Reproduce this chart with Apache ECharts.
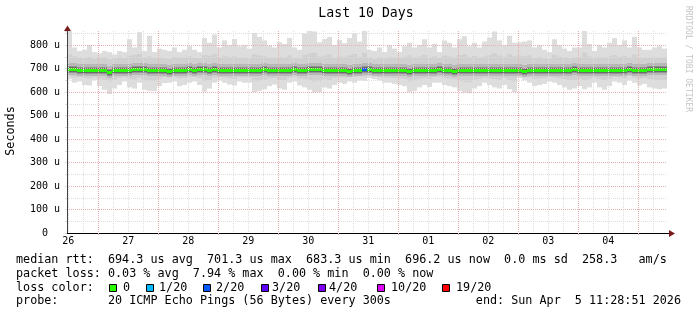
<!DOCTYPE html>
<html>
<head>
<meta charset="utf-8">
<script src="https://cdn.jsdelivr.net/npm/echarts@6/dist/echarts.min.js"></script>
<style>
html, body { margin: 0; padding: 0; background: #fff; }
#chart { width: 697px; height: 315px; }
</style>
</head>
<body>
<div id="chart"></div>
<script>
// last 10 days, 2 hour bins, x in hours since Thu Mar 26 00:00
const START_HOUR = 11.4808;
const END_HOUR = 251.4808;
const BIN_HOURS = 2;

const dayLabels = ['26', '27', '28', '29', '30', '31', '01', '02', '03', '04'];

// smoke: max / min of the pings (microseconds)
const smokeHi = [
    860, 790, 775, 780, 800, 770, 765, 775, 770, 760, 775, 770, 825, 790, 855, 775, 840, 770, 785, 780,
    775, 790, 770, 780, 795, 780, 770, 830, 810, 845, 790, 820, 800, 826, 795, 800, 785, 852, 835, 820,
    798, 790, 812, 805, 830, 790, 780, 850, 860, 858, 812, 826, 835, 800, 822, 808, 830, 850, 815, 860,
    780, 775, 790, 770, 800, 785, 770, 795, 810, 790, 800, 825, 790, 805, 770, 820, 810, 790, 825, 838,
    795, 810, 790, 815, 832, 858, 820, 800, 840, 810, 812, 815, 820, 790, 800, 780, 770, 825, 800, 785,
    775, 790, 790, 860, 805, 775, 800, 790, 810, 830, 800, 820, 790, 835, 790, 780, 780, 790, 795, 785
];
const smokeLo = [
    655, 640, 645, 630, 628, 650, 625, 610, 592, 615, 630, 645, 620, 615, 640, 610, 605, 605, 625, 638,
    640, 645, 625, 630, 640, 645, 630, 602, 615, 640, 650, 640, 632, 628, 645, 640, 640, 600, 605, 612,
    625, 632, 615, 610, 640, 645, 628, 620, 610, 598, 600, 620, 615, 630, 640, 635, 645, 640, 650, 648,
    660, 655, 650, 640, 640, 635, 630, 625, 600, 605, 620, 630, 622, 640, 640, 630, 625, 620, 605, 598,
    595, 615, 625, 640, 630, 620, 615, 630, 612, 600, 660, 650, 640, 625, 630, 635, 645, 640, 630, 620,
    610, 615, 625, 612, 620, 640, 620, 610, 625, 645, 640, 630, 650, 640, 628, 635, 620, 615, 612, 615
];
// denser part of the smoke
const smokeUpper = [
    760, 752, 748, 745, 750, 742, 746, 748, 740, 744, 750, 746, 755, 758, 762, 748, 752, 745, 748, 744,
    742, 750, 746, 748, 752, 746, 744, 758, 755, 762, 748, 755, 750, 752, 745, 748, 744, 760, 756, 752,
    748, 745, 750, 748, 756, 746, 744, 758, 765, 768, 752, 755, 760, 748, 752, 750, 756, 762, 750, 768,
    745, 742, 748, 744, 750, 746, 744, 750, 756, 748, 752, 758, 750, 752, 745, 756, 752, 748, 758, 762,
    750, 754, 748, 752, 758, 765, 756, 750, 760, 752, 755, 752, 756, 746, 750, 744, 742, 758, 750, 748,
    744, 748, 750, 768, 752, 746, 750, 748, 752, 758, 750, 755, 748, 760, 748, 745, 746, 750, 748, 748
];
const smokeLower = [
    668, 662, 664, 660, 658, 665, 656, 652, 645, 652, 660, 664, 656, 654, 662, 650, 648, 648, 658, 664,
    662, 665, 658, 660, 664, 665, 660, 648, 652, 662, 665, 662, 658, 656, 664, 662, 662, 646, 648, 652,
    658, 660, 652, 650, 662, 665, 658, 655, 650, 645, 646, 655, 652, 660, 664, 662, 665, 664, 668, 666,
    670, 668, 665, 662, 662, 660, 658, 656, 645, 648, 655, 660, 656, 664, 664, 658, 656, 654, 648, 644,
    642, 652, 656, 662, 658, 655, 652, 660, 650, 646, 670, 665, 662, 656, 658, 660, 665, 662, 658, 655,
    650, 652, 656, 650, 655, 662, 655, 650, 656, 665, 662, 658, 668, 662, 657, 660, 655, 652, 650, 652
];
const medianRtt = [
    698, 698, 696, 694, 694, 696, 694, 694, 686, 692, 694, 694, 696, 700, 700, 698, 696, 694, 694, 696,
    688, 694, 694, 696, 698, 696, 698, 698, 696, 698, 696, 694, 694, 696, 694, 696, 694, 694, 696, 698,
    696, 694, 696, 694, 696, 698, 696, 694, 698, 700, 698, 696, 694, 692, 694, 696, 688, 694, 696, 700,
    698, 696, 696, 694, 692, 694, 696, 694, 690, 694, 694, 696, 694, 696, 698, 694, 692, 688, 694, 696,
    694, 692, 696, 694, 694, 696, 694, 696, 692, 694, 694, 690, 694, 696, 694, 696, 694, 692, 694, 696,
    694, 698, 694, 696, 694, 692, 694, 696, 694, 692, 696, 694, 698, 696, 692, 694, 698, 700, 698, 700
];
// bins that lost pings, and their loss colour level
const lossBins = [59];
const lossLevels = [2];

const lossLabels = ['0', '1/20', '2/20', '3/20', '4/20', '10/20', '19/20'];
const lossColors = ['#26ff00', '#00b8ff', '#0059ff', '#5e00ff', '#7e00ff', '#dd00ff', '#ff0000'];

const legendLines = [
    'median rtt:  694.3 us avg  701.3 us max  683.3 us min  696.2 us now  0.0 ms sd  258.3   am/s',
    'packet loss: 0.03 % avg  7.94 % max  0.00 % min  0.00 % now',
    'loss color:',
    'probe:       20 ICMP Echo Pings (56 Bytes) every 300s            end: Sun Apr  5 11:28:51 2026'
];

const MONO = '"DejaVu Sans Mono", monospace';
const MAJOR = '#e8b0b0';
const MINOR = '#dedede';

// grid positions on the time axis
const noons = [], midnights = [], quarters = [];
for (let h = 12; h < END_HOUR; h += 6) {
    if (h % 24 === 0) midnights.push(h);
    else quarters.push(h);
    if (h % 24 === 12) noons.push(h);
}

let data = [];
for (let i = 0; i < medianRtt.length; i++) {
    const k = lossBins.indexOf(i);
    data.push([
        START_HOUR + i * BIN_HOURS, START_HOUR + (i + 1) * BIN_HOURS,
        smokeLo[i], smokeLower[i], smokeUpper[i], smokeHi[i], medianRtt[i],
        k >= 0 ? lossLevels[k] : 0
    ]);
}

function renderBin(params, api) {
    const left = Math.round(api.coord([api.value(0), 0])[0]);
    const right = Math.round(api.coord([api.value(1), 0])[0]);
    const y = v => api.coord([api.value(0), v])[1];
    const med = Math.round(y(api.value(6)));
    const band = (top, bottom, color) => ({
        type: 'rect',
        shape: { x: left, y: top, width: right - left, height: bottom - top },
        style: { fill: color }
    });
    return {
        type: 'group',
        children: [
            band(y(api.value(5)), y(api.value(2)), '#dddddd'),
            band(y(api.value(4)), y(api.value(3)), '#d0d0d0'),
            band(med - 6, med + 6, '#b8b8b8'),
            band(med - 3, med + 4, '#949494'),
            band(med - 2, med + 3, '#6a6a6a'),
            band(med - 1, med + 2, lossColors[api.value(7)])
        ]
    };
}

let graphic = [
    { type: 'text', x: 366, y: 14, style: { text: 'Last 10 Days', font: '13.2px ' + MONO, fill: '#000', align: 'center', verticalAlign: 'middle' } },
    { type: 'text', x: 11, y: 131, rotation: Math.PI / 2, style: { text: 'Seconds', font: '11.75px ' + MONO, fill: '#000', align: 'center', verticalAlign: 'middle' } },
    { type: 'text', x: 688, y: 59, rotation: -Math.PI / 2, style: { text: 'RRDTOOL / TOBI OETIKER', font: '8px ' + MONO, fill: '#c4c4c4', align: 'center', verticalAlign: 'middle' } },
    // axis arrows
    { type: 'line', shape: { x1: 667, y1: 233.5, x2: 670, y2: 233.5 }, style: { stroke: '#000', lineWidth: 1 } },
    { type: 'polygon', shape: { points: [[669, 230], [675, 233.5], [669, 237]] }, style: { fill: '#7a1a1a' } },
    { type: 'polygon', shape: { points: [[64, 31], [67.5, 25.5], [71, 31]] }, style: { fill: '#7a1a1a' } }
];
const lineY = [260, 273.5, 287.5, 301];
legendLines.forEach((t, i) => {
    graphic.push({ type: 'text', x: 16, y: lineY[i], style: { text: t, font: '11.75px ' + MONO, fill: '#000', verticalAlign: 'middle' } });
});
const boxX = [109, 146, 203, 261, 318, 377, 442];
const boxTextX = [123, 159, 216, 272, 329, 391, 456];
lossLabels.forEach((t, i) => {
    graphic.push({ type: 'rect', shape: { x: boxX[i] + 0.5, y: 284.5, width: 7, height: 7 }, style: { fill: lossColors[i], stroke: '#000', lineWidth: 1 } });
    graphic.push({ type: 'text', x: boxTextX[i], y: lineY[2], style: { text: t, font: '11.75px ' + MONO, fill: '#000', verticalAlign: 'middle' } });
});

let chartDom = document.getElementById('chart');
let chart = echarts.init(chartDom);
let option = {
    animation: false,
    backgroundColor: '#fff',
    grid: { left: 67, right: 30, top: 31, bottom: 82 },
    xAxis: [
        {
            type: 'value', min: START_HOUR, max: END_HOUR, z: 5,
            axisLine: { show: true, lineStyle: { color: '#000' } },
            axisTick: { show: true, customValues: midnights, length: 2, lineStyle: { color: MAJOR } },
            axisLabel: {
                customValues: noons,
                formatter: v => dayLabels[Math.round((v - 12) / 24)],
                margin: 3, fontFamily: MONO, fontSize: 10, color: '#000'
            },
            splitLine: { show: true, lineStyle: { color: MAJOR, type: [1, 1] } }
        },
        {
            type: 'value', min: START_HOUR, max: END_HOUR, z: 4, position: 'bottom',
            axisLine: { show: false },
            axisTick: { show: false, customValues: quarters },
            axisLabel: { show: false },
            splitLine: { show: true, lineStyle: { color: MINOR, type: [1, 1] } }
        }
    ],
    yAxis: {
        type: 'value', min: 0, max: 860, interval: 50, z: 5,
        axisLine: { show: true, lineStyle: { color: '#404040' } },
        axisTick: { show: true, length: 2, lineStyle: { color: MINOR } },
        axisLabel: {
            formatter: v => v % 100 ? '' : (v ? v + ' u' : '0\u00a0\u00a0'),
            margin: 7, fontFamily: MONO, fontSize: 10, color: '#000'
        },
        splitLine: { show: true, showMaxLine: false, lineStyle: { color: [MAJOR, MINOR], type: [1, 1] } }
    },
    graphic: graphic,
    series: [
        {
            type: 'custom',
            xAxisIndex: 0,
            renderItem: renderBin,
            encode: { x: [0, 1], y: [2, 5] },
            data: data,
            z: 2,
            silent: true
        }
    ]
};
option && chart.setOption(option);
</script>
</body>
</html>
